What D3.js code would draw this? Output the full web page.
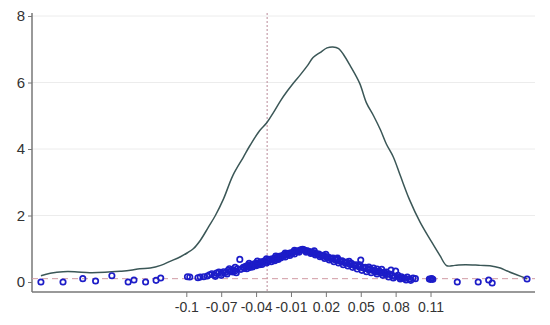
<!DOCTYPE html>
<html><head><meta charset="utf-8">
<script src="https://cdn.jsdelivr.net/npm/d3@7"></script>
<style>body{margin:0;background:#fff}svg{display:block}</style>
</head><body><svg id="c" width="550" height="325"></svg>
<script>
const yTicks = [0, 2, 4, 6, 8];
const xTicks = [-0.1, -0.07, -0.04, -0.01, 0.02, 0.05, 0.08, 0.11];
const xTickLabels = ["-0.1", "-0.07", "-0.04", "-0.01", "0.02", "0.05", "0.08", "0.11"];
const vLine = -0.0305;
const hLine = 0.1;

const densityX = [-0.225,-0.217,-0.206,-0.196,-0.183,-0.170,-0.157,-0.148,-0.140,-0.131,-0.122,-0.114,-0.105,-0.099,-0.094,-0.088,-0.081,-0.075,-0.068,-0.060,-0.051,-0.045,-0.037,-0.031,-0.025,-0.019,-0.013,-0.008,-0.002,0.004,0.009,0.015,0.021,0.026,0.031,0.035,0.041,0.049,0.055,0.061,0.067,0.072,0.078,0.084,0.092,0.101,0.110,0.118,0.124,0.131,0.140,0.153,0.161,0.170,0.176,0.184,0.193];
const densityY = [0.19,0.26,0.31,0.31,0.28,0.29,0.32,0.35,0.40,0.42,0.50,0.62,0.76,0.88,1.0,1.25,1.65,2.0,2.5,3.2,3.75,4.12,4.55,4.78,5.1,5.45,5.75,5.98,6.23,6.5,6.75,6.9,7.04,7.07,7.02,6.85,6.5,5.98,5.38,5.0,4.57,4.15,3.76,3.2,2.47,1.8,1.26,0.8,0.49,0.50,0.52,0.50,0.49,0.42,0.33,0.22,0.10];

const pointsX = [-0.225,-0.206,-0.189,-0.178,-0.164,-0.150,-0.145,-0.135,-0.126,-0.122,
 -0.099,-0.097,-0.090,-0.088,-0.085,-0.082,-0.080,-0.078,-0.076,-0.074,-0.072,-0.070,-0.068,-0.066,-0.064,-0.062,-0.060,-0.058,-0.056,-0.054,-0.053,-0.051,-0.050,
 -0.049,-0.047,-0.046,-0.045,-0.044,-0.042,-0.041,-0.040,-0.038,-0.037,-0.036,-0.034,-0.033,-0.032,-0.030,-0.029,-0.028,-0.026,-0.025,-0.024,-0.022,-0.021,-0.020,-0.018,-0.017,-0.016,-0.014,-0.013,-0.012,-0.010,-0.009,-0.008,-0.006,-0.005,-0.004,-0.002,-0.001,0.000,
 0.001,0.002,0.004,0.005,0.006,0.008,0.009,0.010,0.012,0.013,0.014,0.016,0.017,0.018,0.020,0.021,0.022,0.024,0.025,0.026,0.028,0.029,0.030,0.032,0.033,0.034,0.036,0.037,0.038,0.040,0.041,0.042,0.044,0.045,0.046,0.048,0.049,0.050,0.050,0.052,0.053,0.054,0.056,0.057,0.058,0.060,
 0.062,0.063,0.065,0.066,0.068,0.070,0.071,0.073,0.075,0.077,0.079,0.080,0.082,0.083,0.085,0.086,0.088,0.090,0.092,0.095,0.097,
 0.109,0.110,0.111,0.112,0.133,0.151,0.160,0.163,0.193,
 -0.048,-0.045,-0.043,-0.040,-0.037,-0.035,-0.031,-0.027,-0.024,-0.021,-0.019,-0.015,-0.011,-0.007,-0.003,-0.046,-0.039,-0.031,-0.023,-0.015,-0.007,-0.065,-0.060,-0.057,-0.070,-0.075,-0.063,-0.058,
 0.003,0.007,0.011,0.015,0.019,0.023,0.027,0.031,0.035,0.039,0.043,0.047,0.051,0.055,0.059,0.064,0.069,0.074,0.078,0.084,0.089,0.093,0.010,0.020,0.030,0.040,0.049,0.057,0.064,0.072,0.076,0.068,0.061];
const pointsY = [0.0,0.0,0.10,0.03,0.19,0.0,0.06,0.0,0.05,0.12,
 0.16,0.15,0.13,0.15,0.16,0.18,0.22,0.25,0.21,0.27,0.30,0.26,0.31,0.29,0.35,0.32,0.37,0.34,0.40,0.68,0.38,0.44,0.41,
 0.47,0.50,0.46,0.52,0.49,0.54,0.51,0.57,0.55,0.58,0.61,0.60,0.63,0.59,0.66,0.64,0.68,0.70,0.67,0.72,0.74,0.71,0.77,0.79,0.76,0.82,0.84,0.81,0.86,0.88,0.86,0.90,0.92,0.91,0.94,0.96,0.97,0.98,
 0.97,0.95,0.94,0.92,0.91,0.89,0.87,0.88,0.85,0.83,0.84,0.80,0.78,0.80,0.76,0.74,0.75,0.71,0.70,0.72,0.67,0.66,0.68,0.63,0.62,0.64,0.59,0.57,0.60,0.55,0.53,0.56,0.51,0.49,0.52,0.47,0.45,0.66,0.48,0.43,0.41,0.44,0.39,0.37,0.40,0.35,
 0.34,0.31,0.30,0.33,0.27,0.29,0.25,0.23,0.24,0.19,0.17,0.33,0.20,0.14,0.16,0.12,0.11,0.15,0.09,0.12,0.10,
 0.09,0.08,0.10,0.08,0.0,0.0,0.06,-0.03,0.09,
 0.40,0.44,0.45,0.49,0.52,0.53,0.57,0.61,0.64,0.68,0.72,0.75,0.80,0.84,0.90,0.56,0.63,0.70,0.78,0.87,0.95,0.24,0.30,0.28,0.20,0.17,0.40,0.44,
 0.90,0.86,0.81,0.76,0.71,0.66,0.61,0.57,0.52,0.48,0.44,0.39,0.35,0.31,0.28,0.24,0.20,0.15,0.12,0.09,0.06,0.05,0.94,0.83,0.72,0.62,0.52,0.45,0.39,0.30,0.36,0.38,0.42];

const svg = d3.select("#c");
const pL = 32, pR = 535, pT = 16, pB = 282;
const x = d3.scaleLinear().domain([(pL-302.6)/1163, (pR-302.6)/1163]).range([pL, pR]);
const y = d3.scaleLinear().domain([0, 8]).range([pB, pT]);

// gridlines
svg.append("g").selectAll("line").data(yTicks.filter(d=>d>0)).join("line")
  .attr("x1", pL).attr("x2", pR).attr("y1", d=>y(d)).attr("y2", d=>y(d))
  .attr("stroke", "#ececec").attr("stroke-width", 1);

// y axis
const ya = svg.append("g").attr("transform", `translate(${pL},0)`)
  .call(d3.axisLeft(y).tickValues(yTicks).tickSize(4).tickFormat(d3.format("d")));
ya.select(".domain").attr("stroke", "#777").attr("stroke-width", 1.5).attr("d", `M0,13V292`);
ya.selectAll(".tick line").attr("stroke", "#777");
ya.selectAll("text").attr("font-family", "Liberation Sans, Arial, sans-serif").attr("font-size", 15).attr("fill", "#333").attr("x", -7);

// x axis
const xa = svg.append("g").attr("transform", `translate(0,292)`)
  .call(d3.axisBottom(x).tickValues(xTicks).tickSize(5).tickFormat((d,i)=>xTickLabels[i]));
xa.select(".domain").attr("stroke", "#777").attr("stroke-width", 1.5).attr("d", `M${pL},0H${pR}`);
xa.selectAll(".tick line").attr("stroke", "#777");
xa.selectAll("text").attr("font-family", "Liberation Sans, Arial, sans-serif").attr("font-size", 14).attr("fill", "#333").attr("y", 10);

// reference lines
svg.append("line").attr("x1", x(vLine)).attr("x2", x(vLine)).attr("y1", 13).attr("y2", 291)
  .attr("stroke", "#b98a98").attr("stroke-width", 1).attr("stroke-dasharray", "2,2");
svg.append("line").attr("x1", pL).attr("x2", pR).attr("y1", y(hLine)).attr("y2", y(hLine))
  .attr("stroke", "#d09aa4").attr("stroke-width", 1).attr("stroke-dasharray", "6,4");

// density
svg.append("path").datum(densityX.map((d,i)=>[d, densityY[i]]))
  .attr("fill", "none").attr("stroke", "#3b5757").attr("stroke-width", 1.5)
  .attr("d", d3.line().x(d=>x(d[0])).y(d=>y(d[1])).curve(d3.curveCatmullRom));

// points
svg.append("g").selectAll("circle").data(pointsX.map((d,i)=>[d, pointsY[i]])).join("circle")
  .attr("cx", d=>x(d[0])).attr("cy", d=>y(d[1])).attr("r", 2.7)
  .attr("fill", "none").attr("stroke", "#1c1cc8").attr("stroke-width", 1.7);
</script></body></html>
